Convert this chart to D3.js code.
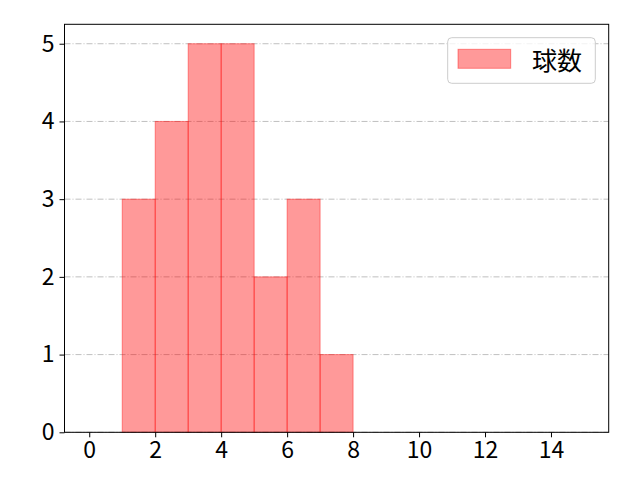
<!DOCTYPE html>
<html><head><meta charset="utf-8">
<script src="https://cdn.jsdelivr.net/npm/d3@7"></script>
<style>body{margin:0;background:#fff}</style>
</head><body>
<script>
const binEdges = [0,1,2,3,4,5,6,7,8,9,10,11,12,13,14,15];
const counts = [0,3,4,5,5,2,3,1,0,0,0,0,0,0,0];
const xTicks = [0,2,4,6,8,10,12,14];
const yTicks = [0,1,2,3,4,5];
const seriesName = "球数";

const W=640,H=480;
const L=64.5,R=608.7,T=24.3,B=432.3;
const font = "'Noto Sans CJK JP', 'Noto Sans', sans-serif";
const svg = d3.select("body").append("svg").attr("width",W).attr("height",H);
const x = d3.scaleLinear().domain([-0.75,15.75]).range([L,R]);
const y = d3.scaleLinear().domain([0,5.25]).range([B,T]);

// grid
svg.append("g").selectAll("line").data(yTicks).join("line")
  .attr("x1",L).attr("x2",R).attr("y1",d=>y(d)).attr("y2",d=>y(d))
  .attr("stroke","#b0b0b0").attr("stroke-width",0.8).attr("stroke-dasharray","6,2,1,2");

const bins = counts.map((c,i)=>({x0:binEdges[i],x1:binEdges[i+1],c}));
svg.append("g").selectAll("rect").data(bins).join("rect")
  .attr("x",d=>x(d.x0)).attr("width",d=>x(d.x1)-x(d.x0))
  .attr("y",d=>y(d.c)).attr("height",d=>y(0)-y(d.c))
  .attr("fill","#ff0000").attr("fill-opacity",0.4)
  .attr("stroke","#ff0000").attr("stroke-opacity",0.4).attr("stroke-width",1);

// frame
svg.append("rect").attr("x",L).attr("y",T).attr("width",R-L).attr("height",B-T)
  .attr("fill","none").attr("stroke","#000").attr("stroke-width",1);

const xAxis = svg.append("g").attr("transform",`translate(0,${B})`)
  .call(d3.axisBottom(x).tickValues(xTicks).tickSize(5).tickPadding(4).tickFormat(d3.format("d")));
const yAxis = svg.append("g").attr("transform",`translate(${L},0)`)
  .call(d3.axisLeft(y).tickValues(yTicks).tickSize(5).tickPadding(5).tickFormat(d3.format("d")));
[xAxis,yAxis].forEach(a=>{
  a.select(".domain").remove();
  a.selectAll("text").attr("font-family",font).attr("font-size",23).attr("fill","#000");
  a.selectAll("line").attr("stroke","#000");
});

// legend
const lg = svg.append("g");
lg.append("rect").attr("x",447.7).attr("y",37.7).attr("width",147.6).attr("height",45.6)
  .attr("rx",4).attr("fill","#fff").attr("fill-opacity",0.8).attr("stroke","#cccccc");
lg.append("rect").attr("x",458).attr("y",49.3).attr("width",52.7).attr("height",19)
  .attr("fill","#ff0000").attr("fill-opacity",0.4).attr("stroke","#ff0000").attr("stroke-opacity",0.4);
lg.append("text").attr("x",532).attr("y",59).attr("dominant-baseline","central")
  .attr("font-family",font).attr("font-size",25).text(seriesName);
</script>
</body></html>
